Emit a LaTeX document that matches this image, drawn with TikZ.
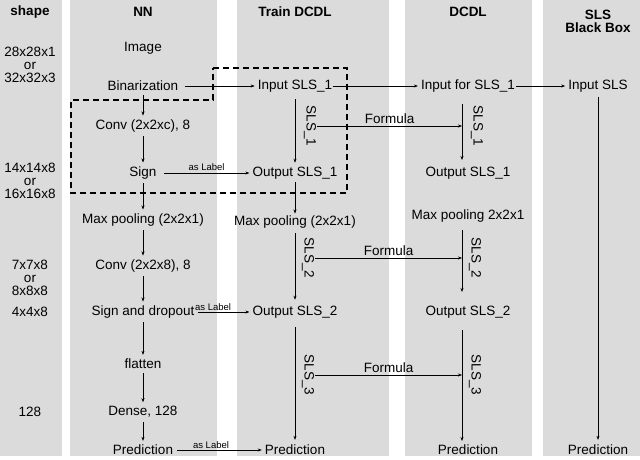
\documentclass[tikz,border=0pt]{standalone}
\usepackage{fontspec}
\setmainfont{Liberation Sans}
\usetikzlibrary{arrows.meta}
\begin{document}
\begin{tikzpicture}[x=1pt,y=-1pt,
  every node/.style={font=\fontsize{13.5}{15}\selectfont,inner sep=1pt},
  ttl/.style={font=\fontsize{13.5}{15}\selectfont\bfseries},
  sm/.style={font=\fontsize{9.5}{10}\selectfont},
  arr/.style={-{Stealth[length=4pt,width=3pt]},line width=0.5pt},
  vlab/.style={rotate=-90},
  col/.style={fill=gray!28,draw=none}]
\useasboundingbox (0,0) rectangle (640,460);
\fill[col] (0,0) rectangle (62,456);
\fill[col] (70,0) rectangle (217,456);
\fill[col] (237,0) rectangle (389,456);
\fill[col] (405,0) rectangle (532,456);
\fill[col] (543,0) rectangle (640,456);
% shape column
\node[ttl] (sh) at (30,12) {shape};
\node[align=center] (s1) at (30,65) {28x28x1\\[-2pt]or\\[-2pt]32x32x3};
\node[align=center] (s2) at (30,181) {14x14x8\\[-2pt]or\\[-2pt]16x16x8};
\node[align=center] (s3) at (30,278) {7x7x8\\[-2pt]or\\[-2pt]8x8x8};
\node (s4) at (30,312) {4x4x8};
\node (s5) at (30,412) {128};
% NN
\node[ttl] (nn) at (143,12) {NN};
\node (img) at (143,48) {Image};
\node (bin) at (143,86) {Binarization};
\node (conv1) at (143,126) {Conv (2x2xc), 8};
\node (sign) at (143,173) {Sign};
\node (mp1) at (143,220) {Max pooling (2x2x1)};
\node (conv2) at (143,266) {Conv (2x2x8), 8};
\node (sd) at (143,312) {Sign and dropout};
\node (fl) at (143,364) {flatten};
\node (dn) at (143,412) {Dense, 128};
\node (pr1) at (143,450) {Prediction};
\foreach \a/\b in {bin/conv1,conv1/sign,sign/mp1,mp1/conv2,conv2/sd,sd/fl,fl/dn,dn/pr1}
  \draw[arr] ([yshift=-3pt]\a.south) -- ([yshift=3pt]\b.north);
% Train DCDL
\node[ttl] (tt) at (295,12) {Train DCDL};
\node (in1) at (295,86) {Input SLS\_1};
\node (out1) at (295,173) {Output SLS\_1};
\node (mp2) at (295,222) {Max pooling (2x2x1)};
\node (out2) at (295,312) {Output SLS\_2};
\node (pr2) at (295,450) {Prediction};
\draw[arr] ([yshift=-6pt]in1.south) -- ([yshift=3pt]out1.north);
\node[vlab] (t1) at (310,126) {SLS\_1};
\draw[arr] ([yshift=-2pt]out1.south) -- ([yshift=1pt]mp2.north);
\draw[arr] ([yshift=-4pt]mp2.south) -- ([yshift=5pt]out2.north);
\node[vlab] (t2) at (308,258) {SLS\_2};
\draw[arr] ([yshift=-8pt]out2.south) -- ([yshift=4pt]pr2.north);
\node[vlab] (t3) at (308,375) {SLS\_3};
% DCDL
\node[ttl] (dd) at (468,12) {DCDL};
\node (in2) at (468,86) {Input for SLS\_1};
\node (out3) at (468,173) {Output SLS\_1};
\node (mp3) at (468,216) {Max pooling 2x2x1};
\node (out4) at (468,312) {Output SLS\_2};
\node (pr3) at (468,450) {Prediction};
\coordinate (a1) at (462,104); \coordinate (a2) at (462,160);
\coordinate (b1) at (462,230); \coordinate (b2) at (462,292);
\coordinate (c1) at (462,330); \coordinate (c2) at (462,441);
\draw[arr,line width=0.9pt] (a1) -- (a2);
\draw[arr,line width=0.9pt] (b1) -- (b2);
\draw[arr,line width=0.9pt] (c1) -- (c2);
\node[vlab] (u1) at (477,126) {SLS\_1};
\node[vlab] (u2) at (475,258) {SLS\_2};
\node[vlab] (u3) at (475,375) {SLS\_3};
% Formula arrows
\draw[arr] (t1.north) -- (462,126) node[midway,above=1pt] (f1) {Formula};
\draw[arr] (t2.north) -- (462,258) node[midway,above=1pt] (f2) {Formula};
\draw[arr] (t3.north) -- (462,375) node[midway,above=1pt] (f3) {Formula};
% SLS
\node[ttl,align=center] (sb) at (598,21) {SLS\\[-2pt]Black Box};
\node (in3) at (598,86) {Input SLS};
\node (pr4) at (598,450) {Prediction};
\draw[arr] ([yshift=-4pt]in3.south) -- ([yshift=4pt]pr4.north);
% horizontal
\draw[arr] ([xshift=6pt]bin.east) -- ([xshift=-2pt]in1.west);
\draw[arr] (in1.east) -- ([xshift=-2pt]in2.west);
\draw[arr] (in2.east) -- ([xshift=-2pt]in3.west);
\draw[arr] ([xshift=6pt]sign.east) -- ([xshift=-2pt]out1.west) node[midway,above=1pt,sm] (al1) {as Label};
\draw[arr] ([xshift=2pt]sd.east) -- ([xshift=-2pt]out2.west) node[pos=0.3,above=0pt,sm] (al2) {as Label};
\draw[arr] ([xshift=3pt]pr1.east) -- ([xshift=-2pt]pr2.west) node[pos=0.4,above=0pt,sm] (al3) {as Label};
% dashed region
\draw[dashed,line width=1.3pt,dash pattern=on 6pt off 4pt] (213,68) -- (347,68) -- (347,193) -- (71,193) -- (71,100) -- (213,100) -- cycle;
\end{tikzpicture}
\end{document}
